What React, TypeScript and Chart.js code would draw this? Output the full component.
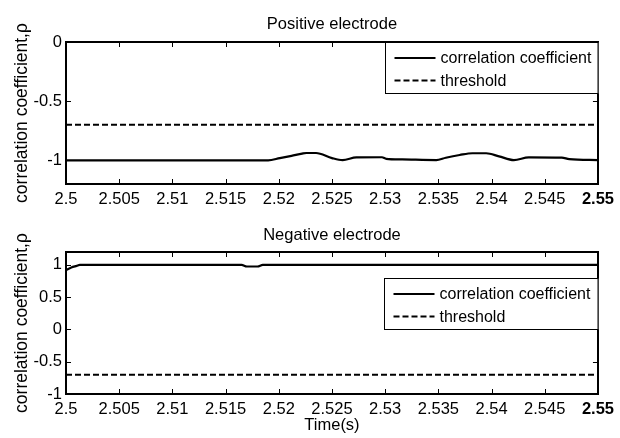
import React, { useEffect, useRef } from "react";
import { Chart, registerables } from "chart.js";

Chart.register(...registerables);

// ---- data ----
const xTicks = [2.5, 2.505, 2.51, 2.515, 2.52, 2.525, 2.53, 2.535, 2.54, 2.545, 2.55];
const posYTicks = [-1, -0.5, 0];
const negYTicks = [-1, -0.5, 0, 0.5, 1];

const posTime = [2.5, 2.519, 2.5201, 2.5212, 2.5222, 2.5226, 2.5235, 2.525, 2.526, 2.5273, 2.5297, 2.5301, 2.5316, 2.5348, 2.5357, 2.537, 2.5382, 2.5395, 2.5407, 2.5421, 2.5435, 2.5466, 2.5473, 2.55];
const posRho = [-1, -1, -0.981, -0.962, -0.943, -0.938, -0.938, -0.981, -0.998, -0.975, -0.974, -0.987, -0.992, -0.998, -0.978, -0.955, -0.94, -0.94, -0.966, -0.998, -0.975, -0.977, -0.99, -0.998];

const negTime = [2.5, 2.5005, 2.501, 2.5013, 2.5165, 2.517, 2.518, 2.5185, 2.55];
const negRho = [0.92, 0.96, 0.985, 1, 1, 0.975, 0.975, 1, 1];

const thresholdTime = [2.5, 2.55];
const thresholdRho = [-0.7, -0.7];

const legendLabels = ["correlation coefficient", "threshold"];
const yLabel = "correlation coefficient,\u03c1";
const xLabel = "Time(s)";

const FONT = '"Liberation Sans", Arial, Helvetica, sans-serif';

const toPts = (xs: number[], ys: number[]) => xs.map((x, i) => ({ x, y: ys[i] }));

const decorPlugin = {
  id: "decor",
  afterDraw(chart: any, _args: any, opts: any) {
    const { ctx, chartArea: a } = chart;
    const xs = chart.scales.x;
    const ys = chart.scales.y;
    ctx.save();
    // inner ticks
    ctx.strokeStyle = "#000";
    ctx.lineWidth = 1;
    const TL = 5;
    xs.ticks.forEach((t: any) => {
      const px = Math.round(xs.getPixelForValue(t.value)) + 0.5;
      ctx.beginPath();
      ctx.moveTo(px, a.bottom);
      ctx.lineTo(px, a.bottom - TL);
      ctx.moveTo(px, a.top);
      ctx.lineTo(px, a.top + TL);
      ctx.stroke();
    });
    ys.ticks.forEach((t: any) => {
      const py = Math.round(ys.getPixelForValue(t.value)) + 0.5;
      ctx.beginPath();
      ctx.moveTo(a.left, py);
      ctx.lineTo(a.left + TL, py);
      ctx.moveTo(a.right, py);
      ctx.lineTo(a.right - TL, py);
      ctx.stroke();
    });
    // frame
    ctx.lineWidth = 2;
    ctx.strokeRect(Math.round(a.left), Math.round(a.top), Math.round(a.right - a.left), Math.round(a.bottom - a.top));

    // title
    ctx.fillStyle = "#000";
    ctx.font = `16.5px ${FONT}`;
    ctx.textAlign = "center";
    ctx.textBaseline = "alphabetic";
    ctx.fillText(opts.title, (a.left + a.right) / 2, opts.titleY);

    // y label
    ctx.save();
    ctx.font = `17.5px ${FONT}`;
    ctx.translate(opts.yLabelX, (a.top + a.bottom) / 2);
    ctx.rotate(-Math.PI / 2);
    ctx.fillText(yLabel, 0, 0);
    ctx.restore();

    // x label
    if (opts.xLabelY) {
      ctx.font = `16.5px ${FONT}`;
      ctx.fillText(xLabel, (a.left + a.right) / 2, opts.xLabelY);
    }

    // legend
    ctx.font = `16px ${FONT}`;
    const lw = opts.legendW;
    const lh = 51;
    const lx = Math.round(a.right - lw) + 0.5;
    const ly = Math.round(a.top + opts.legendTop) + 0.5;
    ctx.fillStyle = "#fff";
    ctx.fillRect(lx, ly, lw, lh);
    ctx.strokeStyle = "#000";
    ctx.lineWidth = 1;
    ctx.strokeRect(lx, ly, Math.round(a.right) - lx, lh);
    ctx.lineWidth = 2;
    const rows = [ly + 15.5, ly + 38];
    legendLabels.forEach((lab, i) => {
      ctx.setLineDash(i === 1 ? [6, 3] : []);
      ctx.beginPath();
      ctx.moveTo(lx + 9, rows[i]);
      ctx.lineTo(lx + 50, rows[i]);
      ctx.stroke();
      ctx.setLineDash([]);
      ctx.fillStyle = "#000";
      ctx.textAlign = "left";
      ctx.textBaseline = "middle";
      ctx.fillText(lab, lx + 55, rows[i] + 1);
    });
    ctx.restore();
  },
};

function makeChart(canvas: HTMLCanvasElement, cfg: any) {
  return new Chart(canvas, {
    type: "line",
    data: {
      datasets: [
        {
          label: legendLabels[0],
          data: toPts(cfg.time, cfg.rho),
          borderColor: "#000",
          borderWidth: 2.2,
          pointRadius: 0,
          cubicInterpolationMode: "monotone",
        },
        {
          label: legendLabels[1],
          data: toPts(thresholdTime, thresholdRho),
          borderColor: "#000",
          borderWidth: 2,
          borderDash: [6, 3],
          pointRadius: 0,
        },
      ],
    },
    options: {
      animation: false,
      responsive: false,
      events: [],
      layout: { padding: { left: 0, top: 42, right: cfg.padRight, bottom: 0 } },
      plugins: {
        legend: { display: false },
        tooltip: { enabled: false },
        title: { display: false },
        decor: cfg.decor,
      } as any,
      scales: {
        x: {
          type: "linear",
          min: 2.5,
          max: 2.55,
          grid: { display: false, drawTicks: false },
          border: { display: false },
          afterBuildTicks: (s: any) => {
            s.ticks = xTicks.map((v) => ({ value: v }));
          },
          afterFit: (s: any) => {
            s.height = cfg.xHeight;
          },
          ticks: {
            autoSkip: false,
            maxRotation: 0,
            minRotation: 0,
            padding: cfg.xPad,
            color: "#000",
            font: (c: any) => ({
              family: FONT,
              size: 16.5,
              weight: c.tick && Math.abs(c.tick.value - 2.55) < 1e-9 ? "bold" : "normal",
            }),
            callback: (v: any) => String(Number(Number(v).toFixed(3))),
          },
        },
        y: {
          type: "linear",
          min: cfg.yMin,
          max: cfg.yMax,
          grid: { display: false, drawTicks: false },
          border: { display: false },
          afterBuildTicks: (s: any) => {
            s.ticks = cfg.yTicks.map((v: number) => ({ value: v }));
          },
          afterFit: (s: any) => {
            s.width = 66;
          },
          ticks: {
            autoSkip: false,
            padding: 4,
            color: "#000",
            font: { family: FONT, size: 16.5 },
            callback: (v: any) => String(Number(Number(v).toFixed(2))),
          },
        },
      },
    } as any,
    plugins: [decorPlugin as any],
  });
}

export default function App() {
  const topRef = useRef<HTMLCanvasElement | null>(null);
  const botRef = useRef<HTMLCanvasElement | null>(null);

  useEffect(() => {
    const c1 = makeChart(topRef.current!, {
      time: posTime,
      rho: posRho,
      yMin: -1.2,
      yMax: 0,
      yTicks: posYTicks,
      padRight: 21,
      xHeight: 26,
      xPad: 6,
      decor: { title: "Positive electrode", titleY: 29, yLabelX: 27, legendW: 213, legendTop: 0 },
    });
    const c2 = makeChart(botRef.current!, {
      time: negTime,
      rho: negRho,
      yMin: -1,
      yMax: 1.2,
      yTicks: negYTicks,
      padRight: 17,
      xHeight: 44,
      xPad: 6,
      decor: { title: "Negative electrode", titleY: 30, yLabelX: 27, legendW: 214, legendTop: 26, xLabelY: 220 },
    });
    return () => {
      c1.destroy();
      c2.destroy();
    };
  }, []);

  return (
    <div style={{ position: "absolute", left: 0, top: 0, width: 620, height: 438, background: "#fff" }}>
      <canvas ref={topRef} width={620} height={210} style={{ display: "block", width: 620, height: 210 }} />
      <canvas ref={botRef} width={620} height={228} style={{ display: "block", width: 620, height: 228 }} />
    </div>
  );
}
